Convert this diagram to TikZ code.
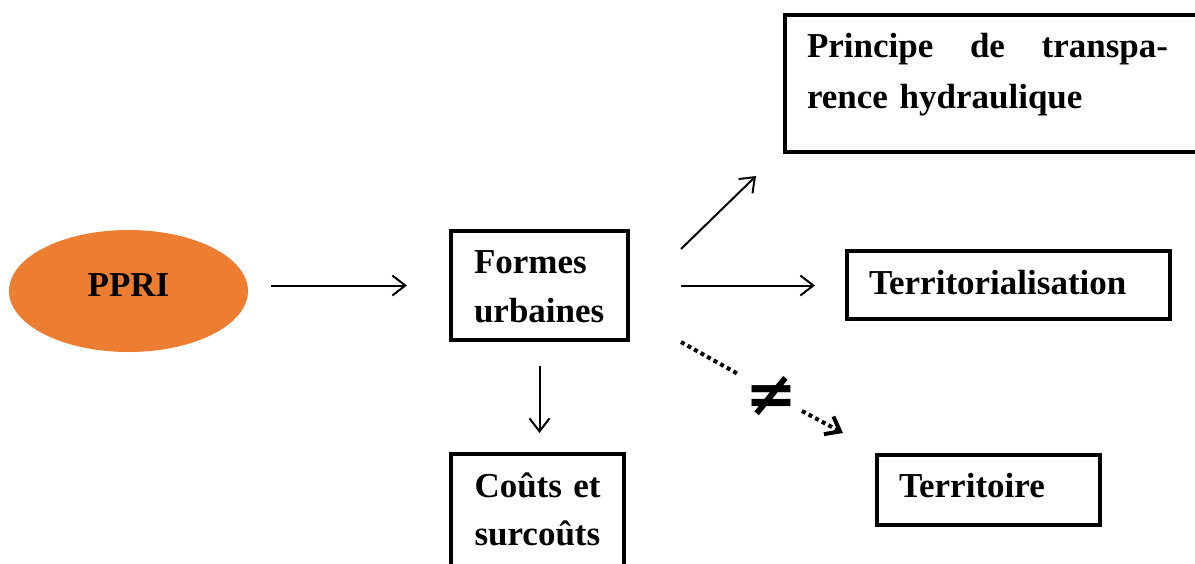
\documentclass[tikz,border=0pt]{standalone}
\usepackage{fontspec}
\setmainfont{Liberation Serif}
\newfontfamily\symfont{DejaVu Sans}
\usetikzlibrary{shapes.geometric,arrows.meta,calc}
\definecolor{pporange}{HTML}{ED7D31}
\begin{document}
\begin{tikzpicture}[x=1pt,y=-1pt,
  box/.style={draw, line width=4pt, rectangle, inner ysep=0pt, align=left,
    font=\bfseries\fontsize{35}{49}\selectfont, anchor=base west},
  arr/.style={line width=2pt, -{Straight Barb[length=13pt,width=20pt]}},
  dotarrow/.style={line width=4pt, dash pattern=on 4pt off 3.5pt},
]
\useasboundingbox (0,0) rectangle (1195,563);

% PPRI ellipse
\node[ellipse, fill=pporange, minimum width=239pt, minimum height=122pt, inner sep=0pt,
  font=\bfseries\fontsize{35}{42}\selectfont, text height=23pt, text depth=12pt]
  (ppri) at (128.5,291) {PPRI};

% Boxes
\node[box, inner xsep=23pt, text width=131pt, text height=42pt, text depth=67pt]
  (formes) at (449,273) {Formes\\urbaines};
\node[box, inner xsep=23.5pt, text width=126pt, text height=43pt, text depth=103pt,
  font=\bfseries\fontsize{35}{48}\selectfont]
  (couts) at (449,497) {\hbox to 126pt{Coûts\hfill et}\\surcoûts};
\node[box, inner xsep=22pt, text width=369pt, text height=42pt, text depth=95pt,
  font=\bfseries\fontsize{35}{51}\selectfont]
  (principe) at (783,57) {\hbox to 361pt{Principe\hfill de\hfill transpa-}\\rence hydraulique};
\node[box, inner xsep=22pt, text width=279pt, text height=43pt, text depth=25pt]
  (territorialisation) at (845,294) {Territorialisation};
\node[box, inner xsep=22pt, text width=179pt, text height=42pt, text depth=28pt]
  (territoire) at (875,497) {Territoire};

% not-equal sign
\node[inner sep=0pt, font=\symfont\bfseries\fontsize{62}{70}\selectfont] (neq) at (771,396) {≠};

% Connectors
\draw[arr, shorten <=23pt, shorten >=42pt] (ppri.east |- formes.west) -- (formes.west);
\draw[arr, shorten <=51pt, shorten >=30pt] (formes.east) -- (territorialisation.west |- formes.east);
\draw[arr, shorten <=24pt, shorten >=19pt] (formes.south) -- (formes.south |- couts.north);
\draw[arr] ($(formes.east)+(51,-36.5)$) -- ($(principe.south west)+(-27,22)$);
\draw[dotarrow] ($(formes.south east)+(51,0)$) -- ($(neq.center)+(-33,-22)$);
\draw[dotarrow, -{Straight Barb[length=13pt,width=20pt]}] ($(neq.center)+(31,15)$) -- ($(territoire.north west)+(-32,-20)$);
\end{tikzpicture}
\end{document}
